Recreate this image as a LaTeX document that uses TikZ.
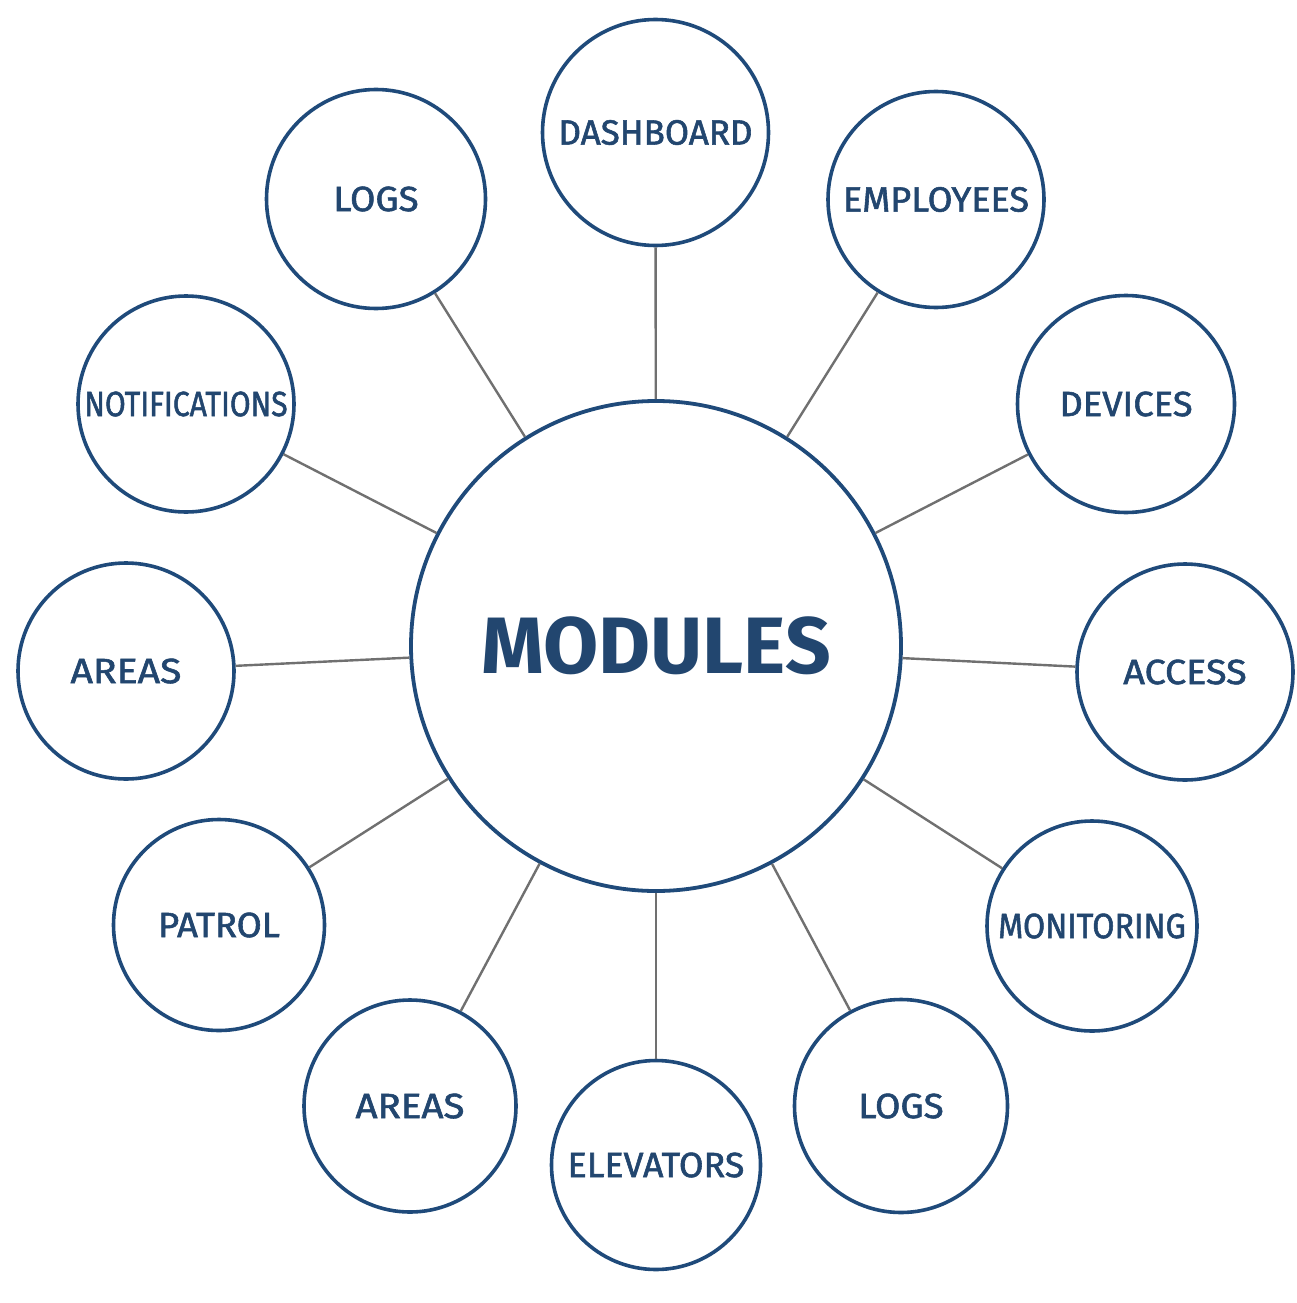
\documentclass[tikz,border=0pt]{standalone}
\usepackage{fontspec}
\usepackage{graphicx}
\setmainfont{Fira Sans}
\newfontfamily\satfont[FakeBold=1.6]{Fira Sans}
\newcommand\sqz[2]{\scalebox{#1}[1]{#2}}
\definecolor{navy}{HTML}{1F4A7A}
\definecolor{txt}{HTML}{22466F}
\definecolor{link}{HTML}{707070}
\begin{document}
\begin{tikzpicture}[x=1pt,y=-1pt,
  sat/.style={circle,draw=navy,line width=3.6pt,fill=white,inner sep=0pt,text=txt,font=\satfont\fontsize{35}{37}\selectfont},
  hub/.style={circle,draw=navy,line width=3.8pt,fill=white,inner sep=0pt,minimum size=490pt,text=txt,font=\fontsize{80}{84}\selectfont\bfseries},
  conn/.style={draw=link,line width=2.4pt}]
\useasboundingbox (0,0) rectangle (1296,1303);
\fill[white] (0,0) rectangle (1296,1303);
\node[hub] (hub) at (656,646) {MODULES};
\node[sat,minimum size=226pt] (dash) at (655.5,132.5) {DASHBOARD};
\node[sat,minimum size=216pt] (emp) at (936,199.5) {\sqz{1.03}{EMPLOYEES}};
\node[sat,minimum size=217pt] (dev) at (1126,404) {\sqz{1.04}{DEVICES}};
\node[sat,minimum size=216pt] (acc) at (1185,672) {\sqz{1.08}{ACCESS}};
\node[sat,minimum size=210pt] (mon) at (1092,926) {\sqz{0.92}{MONITORING}};
\node[sat,minimum size=213pt] (logsb) at (901,1106) {\sqz{1.05}{LOGS}};
\node[sat,minimum size=209pt] (elev) at (656,1165) {\sqz{1.02}{ELEVATORS}};
\node[sat,minimum size=212pt] (areasb) at (410,1106) {\sqz{1.1}{AREAS}};
\node[sat,minimum size=211pt] (pat) at (219,925) {\sqz{1.04}{PATROL}};
\node[sat,minimum size=216pt] (areasl) at (126,671) {\sqz{1.12}{AREAS}};
\node[sat,minimum size=216pt] (notif) at (186,404) {\sqz{0.86}{NOTIFICATIONS}};
\node[sat,minimum size=219pt] (logst) at (376,199) {\sqz{1.05}{LOGS}};
\foreach \n in {dash,emp,dev,acc,mon,logsb,elev,areasb,pat,areasl,notif,logst}{
  \draw[conn] (hub) -- (\n);
}
\end{tikzpicture}
\end{document}
